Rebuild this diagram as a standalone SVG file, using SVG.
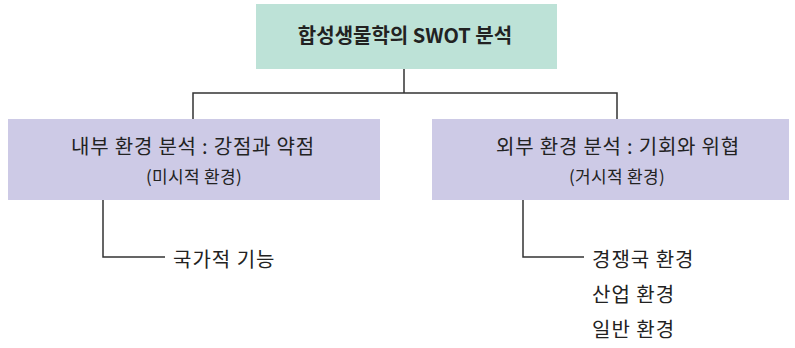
<svg xmlns="http://www.w3.org/2000/svg" width="795" height="348" viewBox="0 0 795 348">
<style>
text{font-family:"Noto Sans CJK KR","Noto Sans",sans-serif;fill:#222;}
.t{font-size:20px;letter-spacing:0.8px;}
.s{font-size:17px;letter-spacing:0.3px;}
.lf{font-size:20px;letter-spacing:1px;}
.title{font-size:20px;font-weight:700;}
.green{fill:#bde2d7;}
.purple{fill:#cdcae6;}
.ln{stroke:#333;stroke-width:1.5;fill:none;}
</style>
<rect width="795" height="348" fill="#fff"/>
<g id="connectors">
<path class="ln" d="M404 69V93M193 119V93H617V119"/>
<path class="ln" d="M103 200V257H165"/>
<path class="ln" d="M523 200V257H584"/>
</g>
<g id="root">
<rect class="green" x="256" y="4" width="301" height="65"/>
<text class="title" x="405" y="43" text-anchor="middle">합성생물학의 SWOT 분석</text>
</g>
<g id="internal">
<rect class="purple" x="8" y="119" width="372" height="81"/>
<text class="t" x="193" y="154" text-anchor="middle">내부 환경 분석 : 강점과 약점</text>
<text class="s" x="194" y="183" text-anchor="middle">(미시적 환경)</text>
</g>
<g id="external">
<rect class="purple" x="432" y="119" width="357" height="81"/>
<text class="t" x="618" y="154" text-anchor="middle">외부 환경 분석 : 기회와 위협</text>
<text class="s" x="617" y="183" text-anchor="middle">(거시적 환경)</text>
</g>
<g id="leaf-national">
<text class="lf" x="173" y="267">국가적 기능</text>
</g>
<g id="leaf-competitor">
<text class="lf" x="592" y="267">경쟁국 환경</text>
</g>
<g id="leaf-industry">
<text class="lf" x="592" y="302">산업 환경</text>
</g>
<g id="leaf-general">
<text class="lf" x="592" y="337">일반 환경</text>
</g>
</svg>
